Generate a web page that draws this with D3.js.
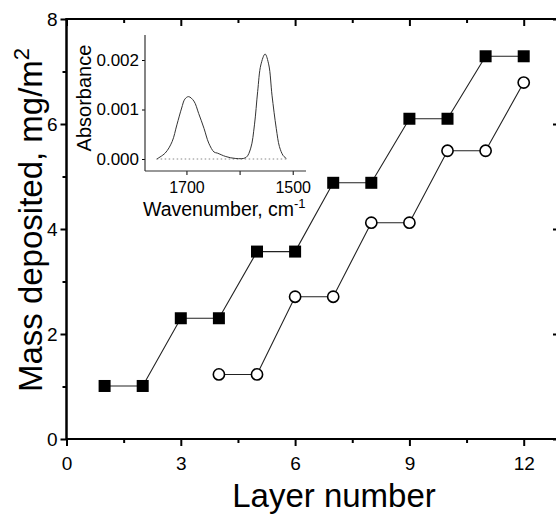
<!DOCTYPE html>
<html>
<head>
<meta charset="utf-8">
<script src="https://cdn.jsdelivr.net/npm/d3@7"></script>
<style>
  html, body { margin: 0; padding: 0; background: #fff; }
  svg { display: block; font-family: "Liberation Sans", Arial, Helvetica, sans-serif; }
</style>
</head>
<body>
<svg id="chart" width="556" height="519"></svg>
<script>
// Mass deposited per layer: filled squares and open circles
const filledLayers = [1, 2, 3, 4, 5, 6, 7, 8, 9, 10, 11, 12];
const filledMass   = [1.01, 1.01, 2.30, 2.30, 3.57, 3.57, 4.88, 4.88, 6.10, 6.10, 7.29, 7.29];
const openLayers   = [4, 5, 6, 7, 8, 9, 10, 11, 12];
const openMass     = [1.23, 1.23, 2.71, 2.71, 4.12, 4.12, 5.49, 5.49, 6.79];

// Axis ticks
const xMajorTicks = [0, 3, 6, 9, 12];
const xMinorTicks = [1.5, 4.5, 7.5, 10.5];
const yMajorTicks = [0, 2, 4, 6, 8];
const yMinorTicks = [1, 3, 5, 7];

// Inset IR spectrum (wavenumber, cm-1 / absorbance)
const spectrumWavenumber = [1756, 1740, 1727, 1718, 1709, 1703, 1696, 1686, 1677, 1667, 1658, 1648, 1642, 1626, 1607, 1588, 1579, 1572, 1566, 1560, 1552, 1545, 1539, 1531, 1525, 1518, 1512];
const spectrumAbsorbance = [0.00000, 0.00012, 0.00035, 0.00069, 0.00103, 0.00121, 0.00126, 0.00117, 0.00092, 0.00062, 0.00032, 0.00014, 0.00012, 0.00005, 0.00001, 0.00003, 0.00022, 0.00069, 0.00136, 0.00190, 0.00212, 0.00190, 0.00129, 0.00062, 0.00025, 0.00007, 0.00001];
const baselineWavenumber = [1756, 1512];
const insetXTicks = [1700, 1600, 1500];
const insetXLabels = [1700, 1500];
const insetYTicks = [0, 0.001, 0.002];

const svg = d3.select("#chart");

const x = d3.scaleLinear().domain([0, 12.9]).range([66.5, 558]);
const y = d3.scaleLinear().domain([0, 8]).range([439, 19]);

// ---- main frame and axes ----
function styleAxis(g, width) {
  g.select(".domain").remove();
  g.selectAll(".tick line").attr("stroke", "#000").attr("stroke-width", width);
  g.selectAll(".tick text").attr("fill", "#000");
}

// left
svg.append("g").attr("transform", `translate(${x(0)},0)`)
  .call(d3.axisLeft(y).tickValues(yMajorTicks).tickSize(6).tickPadding(3).tickFormat(d3.format("d")))
  .call(g => styleAxis(g, 2))
  .call(g => g.selectAll(".tick text").attr("font-size", 19).attr("font-family", null));
svg.append("g").attr("transform", `translate(${x(0)},0)`)
  .call(d3.axisLeft(y).tickValues(yMinorTicks).tickSize(4).tickFormat(""))
  .call(g => styleAxis(g, 2));

// bottom
svg.append("g").attr("transform", `translate(0,${y(0)})`)
  .call(d3.axisBottom(x).tickValues(xMajorTicks).tickSize(7).tickPadding(11).tickFormat(d3.format("d")))
  .call(g => styleAxis(g, 2))
  .call(g => g.selectAll(".tick text").attr("font-size", 19).attr("font-family", null));
svg.append("g").attr("transform", `translate(0,${y(0)})`)
  .call(d3.axisBottom(x).tickValues(xMinorTicks).tickSize(4).tickFormat(""))
  .call(g => styleAxis(g, 2));

// top (ticks point inward)
svg.append("g").attr("transform", `translate(0,${y(8)})`)
  .call(d3.axisTop(x).tickValues(xMajorTicks).tickSize(-7).tickFormat(""))
  .call(g => styleAxis(g, 2));
svg.append("g").attr("transform", `translate(0,${y(8)})`)
  .call(d3.axisTop(x).tickValues(xMinorTicks).tickSize(-4).tickFormat(""))
  .call(g => styleAxis(g, 2));

// right (ticks point inward)
svg.append("g").attr("transform", `translate(${x(12.9)},0)`)
  .call(d3.axisRight(y).tickValues(yMajorTicks).tickSize(-5).tickFormat(""))
  .call(g => styleAxis(g, 2));

// frame lines
svg.append("line").attr("x1", x(0)).attr("x2", x(0)).attr("y1", y(8) - 1).attr("y2", y(0) + 1)
  .attr("stroke", "#000").attr("stroke-width", 2.5);
svg.append("line").attr("x1", x(0)).attr("x2", x(12.9)).attr("y1", y(0)).attr("y2", y(0))
  .attr("stroke", "#000").attr("stroke-width", 2.2);
svg.append("line").attr("x1", x(0)).attr("x2", x(12.9)).attr("y1", y(8)).attr("y2", y(8))
  .attr("stroke", "#000").attr("stroke-width", 2);

// axis titles
svg.append("text")
  .attr("transform", `translate(42,220) rotate(-90)`)
  .attr("text-anchor", "middle").attr("font-size", 33).attr("fill", "#000")
  .call(t => {
    t.append("tspan").text("Mass deposited, mg/m");
    t.append("tspan").attr("font-size", 22).attr("dy", -13).text("2");
  });
svg.append("text")
  .attr("x", 334).attr("y", 507)
  .attr("text-anchor", "middle").attr("font-size", 33).attr("fill", "#000")
  .text("Layer number");

// ---- data series ----
const line = d3.line().x(d => x(d[0])).y(d => y(d[1]));
const filled = filledLayers.map((l, i) => [l, filledMass[i]]);
const open = openLayers.map((l, i) => [l, openMass[i]]);

[filled, open].forEach(series => {
  svg.append("path").datum(series).attr("d", line)
    .attr("fill", "none").attr("stroke", "#222").attr("stroke-width", 1.1);
});

svg.append("g").selectAll("rect").data(filled).join("rect")
  .attr("x", d => x(d[0]) - 6).attr("y", d => y(d[1]) - 6)
  .attr("width", 12).attr("height", 12).attr("fill", "#000");

svg.append("g").selectAll("circle").data(open).join("circle")
  .attr("cx", d => x(d[0])).attr("cy", d => y(d[1])).attr("r", 5.6)
  .attr("fill", "#fff").attr("stroke", "#000").attr("stroke-width", 1.6);

// ---- inset spectrum ----
const ix = d3.scaleLinear().domain([1778, 1475]).range([145, 306]);
const iy = d3.scaleLinear().domain([0, 0.002]).range([159, 60]);
const inset = svg.append("g");

inset.append("g").attr("transform", `translate(${ix(1778)},0)`)
  .call(d3.axisLeft(iy).tickValues(insetYTicks).tickSize(3).tickPadding(3).tickFormat(d3.format(".3f")))
  .call(g => styleAxis(g, 1))
  .call(g => g.selectAll(".tick text").attr("font-size", 17).attr("font-family", null));

inset.append("g").attr("transform", `translate(0,${iy.range()[0] + 12})`)
  .call(d3.axisBottom(ix).tickValues(insetXTicks).tickSize(4).tickPadding(7)
    .tickFormat(d => insetXLabels.includes(d) ? d3.format("d")(d) : ""))
  .call(g => styleAxis(g, 1))
  .call(g => g.selectAll(".tick text").attr("font-size", 16).attr("font-family", null));

inset.append("line").attr("x1", ix(1778)).attr("x2", ix(1778)).attr("y1", 35).attr("y2", 171)
  .attr("stroke", "#333").attr("stroke-width", 1.2);
inset.append("line").attr("x1", ix(1778)).attr("x2", ix(1475)).attr("y1", 171).attr("y2", 171)
  .attr("stroke", "#333").attr("stroke-width", 1.2);

// dotted zero baseline
inset.append("line")
  .attr("x1", ix(baselineWavenumber[0])).attr("x2", ix(baselineWavenumber[1]))
  .attr("y1", iy(0)).attr("y2", iy(0))
  .attr("stroke", "#888").attr("stroke-width", 1).attr("stroke-dasharray", "1.5,2.5");

const spectrum = spectrumWavenumber.map((w, i) => [w, spectrumAbsorbance[i]]);
inset.append("path").datum(spectrum)
  .attr("d", d3.line().x(d => ix(d[0])).y(d => iy(d[1])).curve(d3.curveCatmullRom))
  .attr("fill", "none").attr("stroke", "#333").attr("stroke-width", 1);

inset.append("text")
  .attr("transform", `translate(91,98) rotate(-90)`)
  .attr("text-anchor", "middle").attr("font-size", 20).attr("fill", "#000")
  .text("Absorbance");
inset.append("text")
  .attr("x", 143).attr("y", 216).attr("font-size", 19.5).attr("fill", "#000")
  .call(t => {
    t.append("tspan").text("Wavenumber, cm");
    t.append("tspan").attr("font-size", 13).attr("dy", -8).text("-1");
  });
</script>
</body>
</html>
